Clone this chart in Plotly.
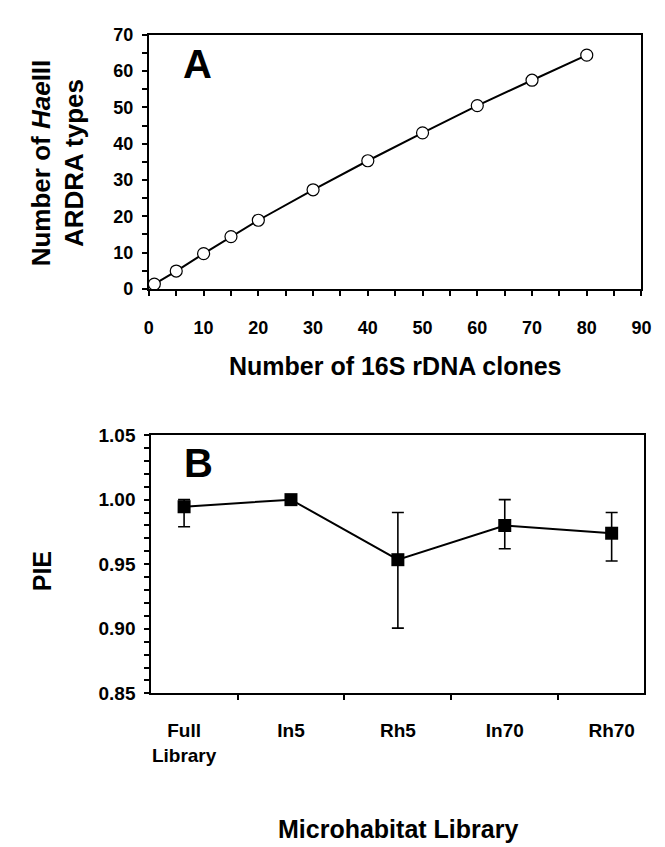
import plotly.graph_objects as go

# Panel A: number of HaeIII ARDRA types vs number of 16S rDNA clones
clones = [1, 5, 10, 15, 20, 30, 40, 50, 60, 70, 80]
ardra_types = [1.3, 4.9, 9.7, 14.4, 18.9, 27.3, 35.3, 43.0, 50.5, 57.5, 64.4]

# Panel B: PIE by microhabitat library (asymmetric error bars)
libraries = ["Full<br>Library", "In5", "Rh5", "In70", "Rh70"]
pie = [0.9945, 1.000, 0.9535, 0.980, 0.974]
pie_err_plus = [0.0055, 0.0, 0.0365, 0.020, 0.016]
pie_err_minus = [0.0155, 0.0, 0.053, 0.018, 0.0215]

W, H = 665, 847
FONT = "Liberation Sans, Arial, Helvetica, sans-serif"


def px_x(x):
    return x / W


def px_y(y):
    return 1 - y / H


fig = go.Figure()

fig.add_trace(go.Scatter(
    x=clones, y=ardra_types, mode="lines+markers",
    line=dict(color="black", width=2),
    marker=dict(symbol="circle", size=12, color="white", line=dict(color="black", width=1.2)),
    cliponaxis=False, xaxis="x", yaxis="y", showlegend=False,
))

fig.add_trace(go.Scatter(
    x=libraries, y=pie, mode="lines+markers",
    line=dict(color="black", width=2),
    marker=dict(symbol="square", size=13, color="black"),
    error_y=dict(type="data", symmetric=False, array=pie_err_plus, arrayminus=pie_err_minus,
                 color="black", thickness=1.6, width=6),
    cliponaxis=False, xaxis="x2", yaxis="y2", showlegend=False,
))

axis_common = dict(showline=True, linecolor="black", linewidth=2, mirror=True,
                   ticks="outside", ticklen=5, tickwidth=1.5, tickcolor="black",
                   showgrid=False, zeroline=False,
                   tickprefix="<b>", ticksuffix="</b>")
minor_common = dict(ticks="outside", ticklen=5, tickwidth=1.5, tickcolor="black")
font_a = dict(family=FONT, size=18, color="black")
font_b = dict(family=FONT, size=19, color="black")

fig.update_layout(
    width=W, height=H,
    paper_bgcolor="white", plot_bgcolor="white",
    margin=dict(l=0, r=0, t=0, b=0),
    xaxis=dict(domain=[px_x(139), px_x(643)], range=[0, 90], dtick=10, anchor="y",
               minor=dict(dtick=5, **minor_common), ticklabelstandoff=17,
               tickfont=font_a, **axis_common),
    yaxis=dict(domain=[px_y(277.7), px_y(17.3)], range=[0, 70], dtick=10, anchor="x",
               minor=dict(dtick=5, **minor_common), ticklabelstandoff=5,
               tickfont=font_a, **axis_common),
    xaxis2=dict(domain=[px_x(141.5), px_x(646)], anchor="y2", tickson="boundaries",
                ticklabelstandoff=19, tickfont=font_b, **axis_common),
    yaxis2=dict(domain=[px_y(692.5), px_y(427.7)], range=[0.85, 1.05], dtick=0.05,
                tickformat=".2f", anchor="x2", ticklabelstandoff=5,
                minor=dict(dtick=0.01, **minor_common),
                tickfont=font_b, **axis_common),
)

TITLE = dict(family=FONT, size=25, color="black")
PANEL = dict(family=FONT, size=40, color="black")

annotations = [
    dict(text="<b>A</b>", x=px_x(189), y=px_y(47), font=PANEL),
    dict(text="<b>B</b>", x=px_x(190), y=px_y(456), font=PANEL),
    dict(text="<b>Number of <i>Hae</i>III<br>ARDRA types</b>", x=px_x(46), y=px_y(148),
         textangle=-90, font=dict(family=FONT, size=26, color="black")),
    dict(text="<b>Number of 16S rDNA clones</b>", x=px_x(391), y=px_y(357), font=TITLE),
    dict(text="<b>PIE</b>", x=px_x(30), y=px_y(567), textangle=-90, font=TITLE),
    dict(text="<b>Microhabitat Library</b>", x=px_x(394), y=px_y(832), font=TITLE),
]
for a in annotations:
    a.update(xref="paper", yref="paper", showarrow=False, xanchor="center", yanchor="middle")
fig.update_layout(annotations=annotations)

fig.write_html("out.html")
